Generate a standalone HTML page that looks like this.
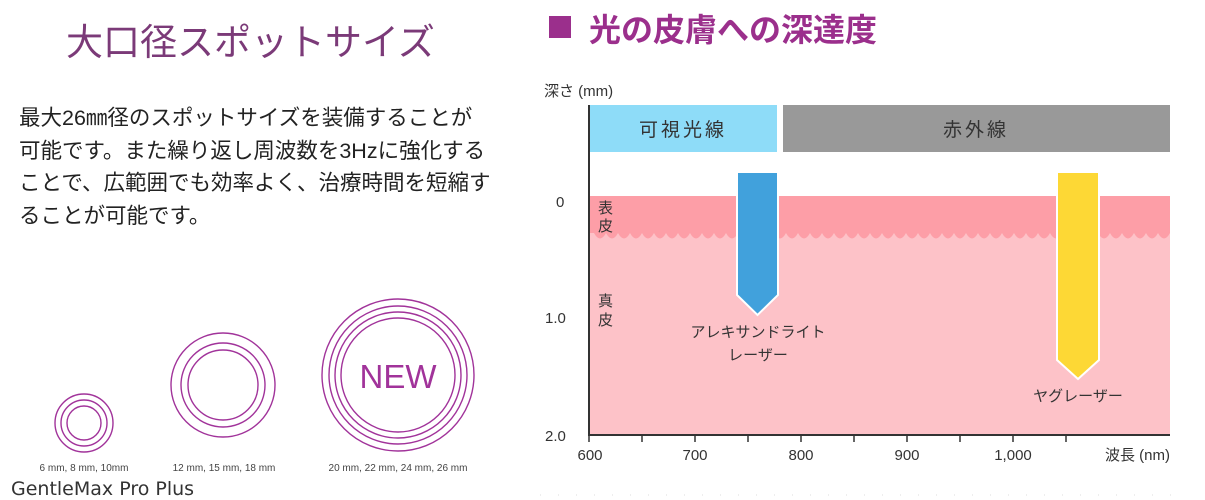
<!DOCTYPE html>
<html><head><meta charset="utf-8"><style>
body{margin:0;width:1205px;height:500px;background:#fff;overflow:hidden;position:relative;font-family:"Liberation Sans","Noto Sans CJK JP",sans-serif}
.a{position:absolute;white-space:nowrap}
</style></head><body>
<div class="a" style="left:66px;top:12px;font-size:37px;color:#7b3a78">大口径スポットサイズ</div>
<div class="a" style="left:19px;top:102px;font-size:21.5px;line-height:32.5px;color:#222">最大26㎜径のスポットサイズを装備することが<br>可能です。また繰り返し周波数を3Hzに強化する<br>ことで、広範囲でも効率よく、治療時間を短縮す<br>ることが可能です。</div>
<svg class="a" style="left:0;top:0" width="540" height="500">
<g fill="none" stroke="#a1339a" stroke-width="1.4">
<circle cx="84" cy="423" r="29"/><circle cx="84" cy="423" r="23"/><circle cx="84" cy="423" r="17"/>
<circle cx="223" cy="385" r="52"/><circle cx="223" cy="385" r="42"/><circle cx="223" cy="385" r="35"/>
<circle cx="398" cy="375" r="76"/><circle cx="398" cy="375" r="69"/><circle cx="398" cy="375" r="63"/><circle cx="398" cy="375" r="57"/>
</g>
<text x="398" y="388" font-size="33" fill="#a1339a" text-anchor="middle" font-family="Liberation Sans">NEW</text>
<g font-size="10" fill="#444" text-anchor="middle" font-family="Liberation Sans">
<text x="84" y="471">6 mm, 8 mm, 10mm</text><text x="224" y="471">12 mm, 15 mm, 18 mm</text><text x="398" y="471">20 mm, 22 mm, 24 mm, 26 mm</text></g>
<text x="11" y="495" font-size="19" fill="#333" font-family="DejaVu Sans">GentleMax Pro Plus</text>
</svg>
<div class="a" style="left:549px;top:16px;width:22px;height:22px;background:#9b2f8c"></div>
<div class="a" style="left:589px;top:5px;font-size:32px;font-weight:bold;color:#9b2f8c">光の皮膚への深達度</div>
<svg class="a" style="left:540px;top:0" width="665" height="500">
<text x="4" y="96" font-size="15" fill="#333">深さ (mm)</text>
<rect x="49" y="105" width="188" height="47" fill="#8edcf8"/>
<rect x="243" y="105" width="387" height="47" fill="#999"/>
<text x="143" y="136" font-size="19" fill="#333" text-anchor="middle" letter-spacing="3">可視光線</text>
<text x="436" y="136" font-size="19" fill="#333" text-anchor="middle" letter-spacing="3">赤外線</text>
<rect x="49" y="196" width="581" height="239" fill="#fdc2c8"/>
<path d="M49 196H630V233 q-6 11 -12 0 q-6 11 -12 0 q-6 11 -12 0 q-6 11 -12 0 q-6 11 -12 0 q-6 11 -12 0 q-6 11 -12 0 q-6 11 -12 0 q-6 11 -12 0 q-6 11 -12 0 q-6 11 -12 0 q-6 11 -12 0 q-6 11 -12 0 q-6 11 -12 0 q-6 11 -12 0 q-6 11 -12 0 q-6 11 -12 0 q-6 11 -12 0 q-6 11 -12 0 q-6 11 -12 0 q-6 11 -12 0 q-6 11 -12 0 q-6 11 -12 0 q-6 11 -12 0 q-6 11 -12 0 q-6 11 -12 0 q-6 11 -12 0 q-6 11 -12 0 q-6 11 -12 0 q-6 11 -12 0 q-6 11 -12 0 q-6 11 -12 0 q-6 11 -12 0 q-6 11 -12 0 q-6 11 -12 0 q-6 11 -12 0 q-6 11 -12 0 q-6 11 -12 0 q-6 11 -12 0 q-6 11 -12 0 q-6 11 -12 0 q-6 11 -12 0 q-6 11 -12 0 q-6 11 -12 0 q-6 11 -12 0 q-6 11 -12 0 q-6 11 -12 0 q-6 11 -12 0 L49 233Z" fill="#fd9ea7"/>
<path d="M197 172H238V295L217.5 315L197 295Z" fill="#41a1dc" stroke="#fff" stroke-width="2"/>
<path d="M517 172H559V360L538 379L517 360Z" fill="#fdd835" stroke="#fff" stroke-width="2"/>
<path d="M49 105V435H630" fill="none" stroke="#333" stroke-width="2"/>
<g stroke="#333" stroke-width="1.5"><path d="M49 435v7M102 435v7M155 435v7M208 435v7M261 435v7M314 435v7M367 435v7M420 435v7M473 435v7M526 435v7"/></g>
<g font-size="15" fill="#333">
<text x="16" y="207">0</text><text x="5" y="323">1.0</text><text x="5" y="441">2.0</text>
<text x="50" y="460" text-anchor="middle">600</text><text x="155" y="460" text-anchor="middle">700</text><text x="261" y="460" text-anchor="middle">800</text><text x="367" y="460" text-anchor="middle">900</text><text x="473" y="460" text-anchor="middle">1,000</text>
<text x="630" y="460" text-anchor="end">波長 (nm)</text>
<text x="58" y="213">表</text><text x="58" y="231">皮</text><text x="58" y="306">真</text><text x="58" y="325">皮</text>
<text x="218" y="337" text-anchor="middle">アレキサンドライト</text><text x="218" y="360" text-anchor="middle">レーザー</text>
<text x="538" y="401" text-anchor="middle">ヤグレーザー</text>
</g>
<line x1="0" y1="495" x2="640" y2="495" stroke="#ddd" stroke-dasharray="1 17"/>
</svg>
</body></html>
